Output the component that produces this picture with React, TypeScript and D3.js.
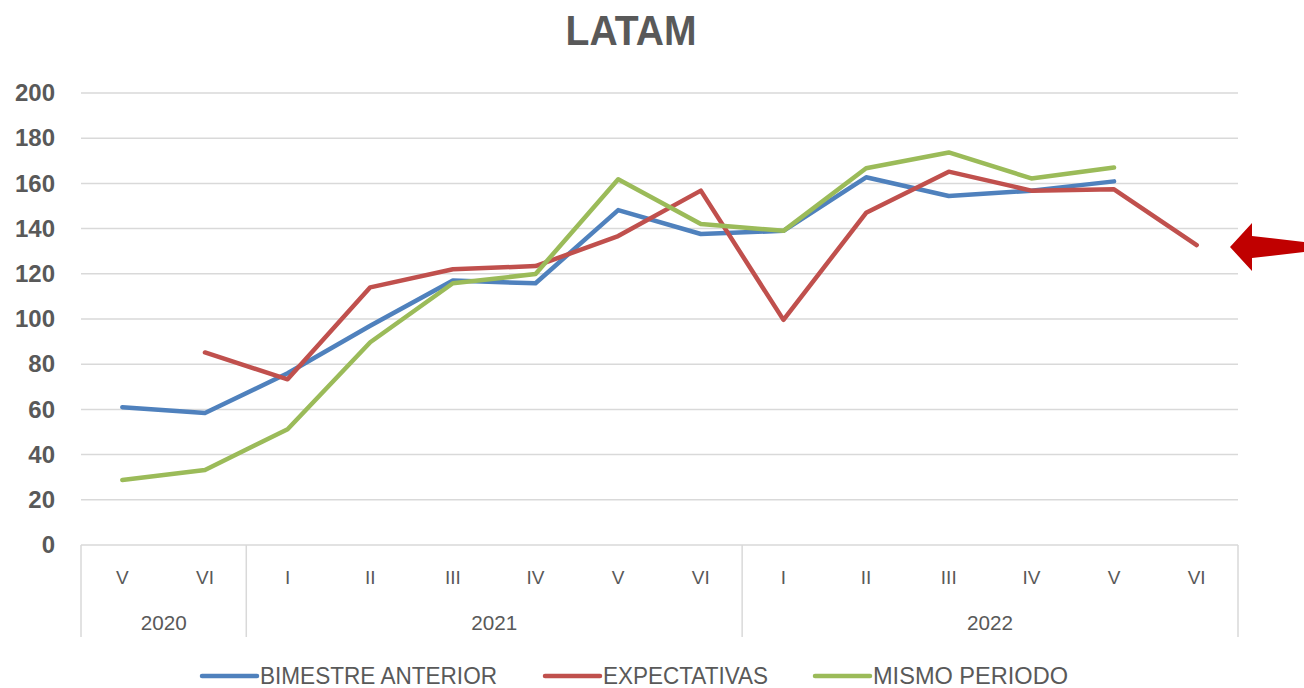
import React from "react";
import * as d3 from "d3";

const periods = ["V", "VI", "I", "II", "III", "IV", "V", "VI", "I", "II", "III", "IV", "V", "VI"];
const years = [
  { label: "2020", count: 2 },
  { label: "2021", count: 6 },
  { label: "2022", count: 6 },
];
const bimestreAnterior: (number | null)[] = [61, 58.4, 76, 97, 117, 115.8, 148.2, 137.6, 139, 162.7, 154.4, 156.8, 160.9, null];
const expectativas: (number | null)[] = [null, 85.2, 73.3, 114, 122, 123.4, 136.7, 156.8, 99.6, 147, 165.2, 156.8, 157.4, 132.7];
const mismoPeriodo: (number | null)[] = [28.8, 33.2, 51.2, 89.7, 115.8, 119.9, 161.8, 142, 139, 166.7, 173.7, 162.2, 167, null];
const yTicks = [0, 20, 40, 60, 80, 100, 120, 140, 160, 180, 200];

const series = [
  { name: "BIMESTRE ANTERIOR", values: bimestreAnterior, color: "#4f81bd" },
  { name: "EXPECTATIVAS", values: expectativas, color: "#c0504d" },
  { name: "MISMO PERIODO", values: mismoPeriodo, color: "#9bbb59" },
];

const W = 1304;
const H = 688;
const left = 81;
const right = 1238;
const top = 93;
const bottom = 545;
const textColor = "#595959";
const gridColor = "#d9d9d9";
const font = "'Liberation Sans', Arial, sans-serif";

export default function App() {
  const idx = periods.map((_, i) => i);
  const x = d3.scaleBand<number>().domain(idx).range([left, right]).padding(0);
  const y = d3.scaleLinear().domain([0, 200]).range([bottom, top]);
  const cx = (i: number) => (x(i) as number) + x.bandwidth() / 2;
  const line = d3
    .line<number | null>()
    .defined((d) => d !== null)
    .x((_, i) => cx(i))
    .y((d) => y(d as number));

  const bounds: number[] = [left];
  let acc = 0;
  years.forEach((yr) => {
    acc += yr.count;
    bounds.push(left + acc * x.bandwidth());
  });

  const legendItems = [
    { x: 202, textX: 260, len: 237 },
    { x: 545, textX: 603, len: 165 },
    { x: 815, textX: 873, len: 195 },
  ];

  return (
    <svg width={W} height={H} style={{ position: "absolute", left: 0, top: 0, background: "#fff" }}>
      <rect x={0} y={0} width={W} height={H} fill="#fff" />
      <text x={631} y={45} textAnchor="middle" fontFamily={font} fontWeight="bold" fontSize={42} fill={textColor} textLength={131} lengthAdjust="spacingAndGlyphs">
        LATAM
      </text>
      {yTicks.map((t) => (
        <g key={t}>
          {t > 0 && <line x1={left} x2={right} y1={y(t)} y2={y(t)} stroke={gridColor} strokeWidth={1.5} />}
          <text x={55} y={y(t)} dy="0.34em" textAnchor="end" fontFamily={font} fontWeight="bold" fontSize={24} fill={textColor}>
            {t}
          </text>
        </g>
      ))}
      <line x1={left} x2={right} y1={bottom} y2={bottom} stroke={gridColor} strokeWidth={1.5} />
      {bounds.map((b, i) => (
        <line key={i} x1={b} x2={b} y1={bottom} y2={637} stroke={gridColor} strokeWidth={1.5} />
      ))}
      {periods.map((p, i) => (
        <text key={i} x={cx(i)} y={584} textAnchor="middle" fontFamily={font} fontSize={19} fill={textColor}>
          {p}
        </text>
      ))}
      {years.map((yr, i) => (
        <text key={yr.label} x={(bounds[i] + bounds[i + 1]) / 2} y={630} textAnchor="middle" fontFamily={font} fontSize={21} fill={textColor} textLength={46} lengthAdjust="spacingAndGlyphs">
          {yr.label}
        </text>
      ))}
      {series.map((s) => (
        <path key={s.name} d={line(s.values) || ""} fill="none" stroke={s.color} strokeWidth={4.5} strokeLinejoin="round" strokeLinecap="round" />
      ))}
      <polygon points="1230,247 1252,223 1252,236 1304,242 1304,252 1252,258 1252,271" fill="#c00000" />
      {series.map((s, i) => (
        <g key={s.name}>
          <line x1={legendItems[i].x} x2={legendItems[i].x + 55} y1={676} y2={676} stroke={s.color} strokeWidth={4.5} strokeLinecap="round" />
          <text x={legendItems[i].textX} y={684} fontFamily={font} fontSize={24} fill={textColor} textLength={legendItems[i].len} lengthAdjust="spacingAndGlyphs">
            {s.name}
          </text>
        </g>
      ))}
    </svg>
  );
}
